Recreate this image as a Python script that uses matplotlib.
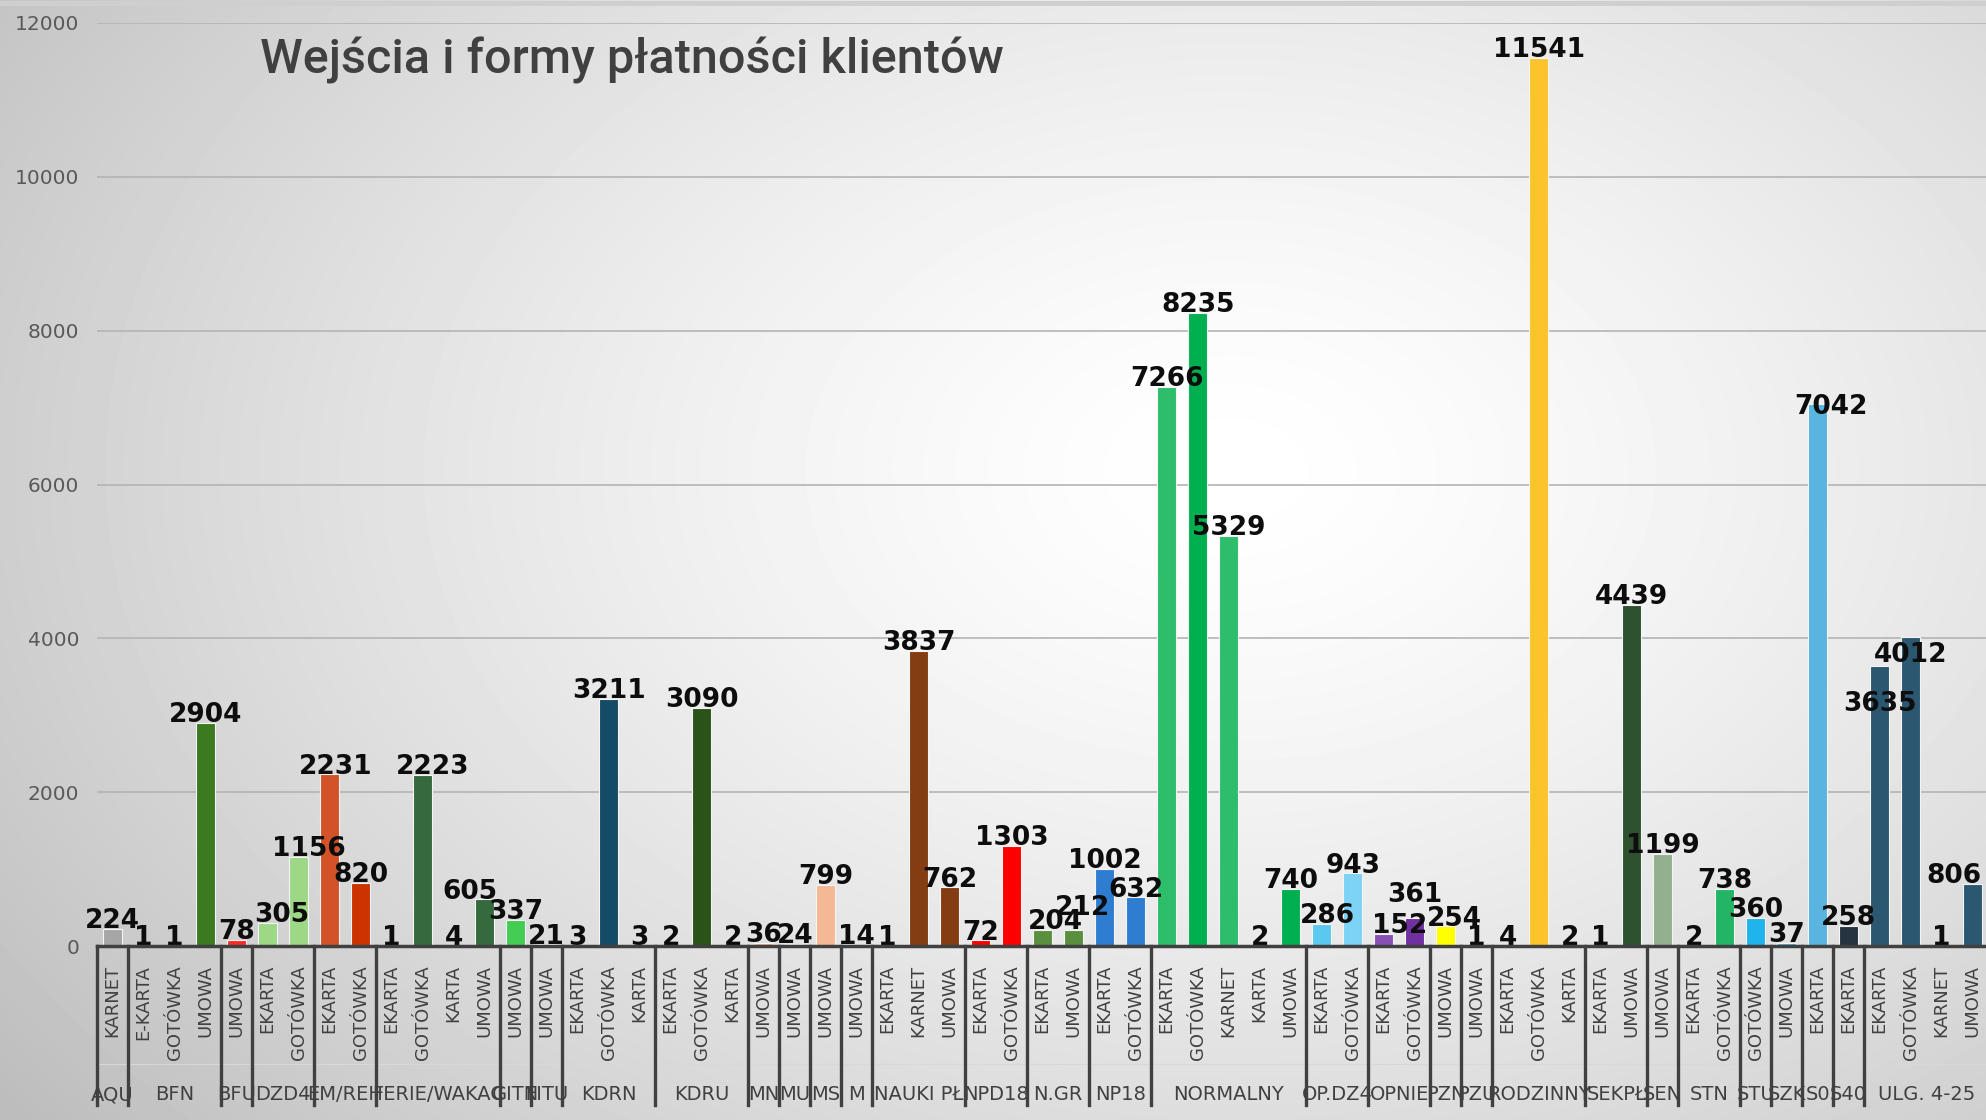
import numpy as np
import matplotlib
matplotlib.use("Agg")
import matplotlib.pyplot as plt
from matplotlib.lines import Line2D

# ---------------- data ----------------
groups = ["AQU", "BFN", "BFU", "DZD4", "EM/REH", "FERIE/WAKAC", "GITN", "FITU",
          "KDRN", "KDRU", "MN", "MU", "MS", "M", "NAUKI PŁ", "NPD18", "N.GR",
          "NP18", "NORMALNY", "OP.DZ4", "OPNIE", "PZN", "PZU", "RODZINNY",
          "SEKPŁ", "SEN", "STN", "STU", "SZK", "S0", "S40", "ULG. 4-25"]

payment_types = [
    ["KARNET"],
    ["E-KARTA", "GOTÓWKA", "UMOWA"],
    ["UMOWA"],
    ["EKARTA", "GOTÓWKA"],
    ["EKARTA", "GOTÓWKA"],
    ["EKARTA", "GOTÓWKA", "KARTA", "UMOWA"],
    ["UMOWA"],
    ["UMOWA"],
    ["EKARTA", "GOTÓWKA", "KARTA"],
    ["EKARTA", "GOTÓWKA", "KARTA"],
    ["UMOWA"],
    ["UMOWA"],
    ["UMOWA"],
    ["UMOWA"],
    ["EKARTA", "KARNET", "UMOWA"],
    ["EKARTA", "GOTÓWKA"],
    ["EKARTA", "UMOWA"],
    ["EKARTA", "GOTÓWKA"],
    ["EKARTA", "GOTÓWKA", "KARNET", "KARTA", "UMOWA"],
    ["EKARTA", "GOTÓWKA"],
    ["EKARTA", "GOTÓWKA"],
    ["UMOWA"],
    ["UMOWA"],
    ["EKARTA", "GOTÓWKA", "KARTA"],
    ["EKARTA", "UMOWA"],
    ["UMOWA"],
    ["EKARTA", "GOTÓWKA"],
    ["GOTÓWKA"],
    ["UMOWA"],
    ["EKARTA"],
    ["EKARTA"],
    ["EKARTA", "GOTÓWKA", "KARNET", "UMOWA"],
]

values = [
    [224],
    [1, 1, 2904],
    [78],
    [305, 1156],
    [2231, 820],
    [1, 2223, 4, 605],
    [337],
    [21],
    [3, 3211, 3],
    [2, 3090, 2],
    [36],
    [24],
    [799],
    [14],
    [1, 3837, 762],
    [72, 1303],
    [204, 212],
    [1002, 632],
    [7266, 8235, 5329, 2, 740],
    [286, 943],
    [152, 361],
    [254],
    [1],
    [4, 11541, 2],
    [1, 4439],
    [1199],
    [2, 738],
    [360],
    [37],
    [7042],
    [258],
    [3635, 4012, 1, 806],
]

bar_colors = [
    ["#a6a6a6"],
    ["#5b9bd5", "#c0504d", "#3c7a22"],
    ["#ff2a2a"],
    ["#9cd886", "#9cd886"],
    ["#d35227", "#cc3300"],
    ["#3a7a44", "#346a3c", "#346a3c", "#346a3c"],
    ["#44cc55"],
    ["#3a7a44"],
    ["#144b66", "#144b66", "#144b66"],
    ["#2a5219", "#2a5219", "#e04040"],
    ["#f4b894"],
    ["#f4b894"],
    ["#f4b894"],
    ["#f4b894"],
    ["#843c12", "#843c12", "#843c12"],
    ["#ff0000", "#ff0000"],
    ["#5a8f40", "#5a8f40"],
    ["#2e7dd1", "#2e7dd1"],
    ["#2ebd6b", "#00b050", "#2ebd6b", "#00b050", "#00b050"],
    ["#5bc8f0", "#7dd3f5"],
    ["#8a4fb5", "#7030a0"],
    ["#ffff00"],
    ["#ffc425"],
    ["#ffc425", "#fbc42a", "#ffc425"],
    ["#2e5130", "#2e5130"],
    ["#93b08e"],
    ["#22b566", "#22b566"],
    ["#1fb4ec"],
    ["#5ab4e0"],
    ["#5ab4e0"],
    ["#263340"],
    ["#2b5870", "#2b5870", "#2b5870", "#2b5870"],
]

title = "Wejścia i formy płatności klientów"

# label placement tweaks (pixels: right, up) mimicking the reference's label layout
label_nudge = {
    ("DZD4", "EKARTA"): (14, 0),
    ("DZD4", "GOTÓWKA"): (10, 0),
    ("EM/REH", "EKARTA"): (6, 0),
    ("FERIE/WAKAC", "GOTÓWKA"): (10, 0),
    ("FERIE/WAKAC", "UMOWA"): (-15, 0),
    ("N.GR", "EKARTA"): (13, 0),
    ("N.GR", "UMOWA"): (9, 14),
    ("OP.DZ4", "EKARTA"): (6, 0),
    ("OPNIE", "EKARTA"): (16, 0),
    ("OPNIE", "GOTÓWKA"): (0, 15),
    ("PZN", "UMOWA"): (9, 0),
    ("S0", "EKARTA"): (13, -10),
    ("ULG. 4-25", "EKARTA"): (0, -45),
    ("ULG. 4-25", "GOTÓWKA"): (0, -25),
}

# ---------------- figure ----------------
W, H = 1986, 1120
fig = plt.figure(figsize=(W / 100, H / 100), dpi=100)

# radial gradient background
bg = fig.add_axes([0, 0, 1, 1], zorder=-10)
yy, xx = np.mgrid[0:1:300j, 0:1:500j]
d = np.sqrt(((xx - 0.62) / 0.62) ** 2 + ((yy - 0.42) / 0.75) ** 2)
val = np.clip(1 - 0.19 * d ** 1.4, 0.74, 1.0)
bg.imshow(val, cmap="gray", vmin=0, vmax=1, aspect="auto",
          extent=[0, 1, 0, 1], origin="upper", interpolation="bilinear")
bg.set_xlim(0, 1)
bg.set_ylim(0, 1)
bg.axis("off")

# thin frame band at the very top
fig.add_artist(Line2D([0, 1], [1 - 2.5 / H, 1 - 2.5 / H], color="#cfcfcf",
                      linewidth=3.6, transform=fig.transFigure))

ax_left = 97.2 / W
ax_bottom = (H - 946) / H
ax_top = (H - 23) / H
ax = fig.add_axes([ax_left, ax_bottom, 1891 / W, ax_top - ax_bottom])
ax.patch.set_alpha(0)

flat_vals, flat_cols, flat_types, flat_groups = [], [], [], []
bounds = [0]
for g, v, c, t in zip(groups, values, bar_colors, payment_types):
    flat_vals += v
    flat_cols += c
    flat_types += t
    flat_groups += [g] * len(v)
    bounds.append(bounds[-1] + len(v))

x = np.arange(len(flat_vals))
ax.bar(x, flat_vals, width=0.6, color=flat_cols, edgecolor="#f4f4f4",
       linewidth=0.8, zorder=3)

labels = []
for xi, v, g, t in zip(x, flat_vals, flat_groups, flat_types):
    dx, dy = label_nudge.get((g, t), (0, 0))
    lab = ax.annotate(f"{v}", (xi, v), xytext=(dx * 0.72, 0.6 + dy * 0.72),
                      textcoords="offset points", ha="center", va="baseline",
                      fontsize=19, fontweight="bold", color="#0d0d0d", zorder=5,
                      family="DejaVu Sans", annotation_clip=False)
    labels.append(lab)

ax.set_xlim(-0.5, len(flat_vals) - 0.5)
ax.set_ylim(0, 12000)
ax.set_yticks(np.arange(0, 12001, 2000))
ax.tick_params(axis="y", length=0, pad=13, labelsize=14.5, labelcolor="#595959")
ax.set_xticks([])
ax.yaxis.grid(True, color="#b4b4b4", linewidth=1.2, zorder=0)
ax.set_axisbelow(True)
for s in ["left", "right", "top"]:
    ax.spines[s].set_visible(False)
ax.spines["bottom"].set_color("#404040")
ax.spines["bottom"].set_linewidth(2.5)
ax.spines["bottom"].set_zorder(6)

trans = ax.get_xaxis_transform()
axh_px = (ax_top - ax_bottom) * H

# inner labels
for xi, t in zip(x, flat_types):
    ax.text(xi, -19 / axh_px, t, rotation=90, ha="center", va="top",
            fontsize=13, color="#404040", transform=trans, clip_on=False)

# outer group labels and separator lines
for g, b0, b1 in zip(groups, bounds[:-1], bounds[1:]):
    cx = (b0 + b1 - 1) / 2
    ax.text(cx, -149 / axh_px, g, ha="center", va="center", fontsize=14,
            color="#404040", transform=trans, clip_on=False)
for b in bounds:
    ax.plot([b - 0.5, b - 0.5], [0, -159 / axh_px], color="#404040",
            linewidth=2.4, transform=trans, clip_on=False, zorder=6)

# faint divider between label rows
ax.plot([-0.5, len(flat_vals) - 0.5], [-118 / axh_px, -118 / axh_px],
        color="#d8d8d8", linewidth=0.8, transform=trans, clip_on=False)

fig.text(260 / W, 1 - 60 / H, title, ha="left", va="center", fontsize=35,
         fontweight="medium", family=["Roboto", "DejaVu Sans"], color="#404040")

# keep data labels inside the picture (like the reference's last label)
fig.canvas.draw()
renderer = fig.canvas.get_renderer()
for lab in labels:
    bb = lab.get_window_extent(renderer)
    if bb.x1 > W - 4:
        shift_px = bb.x1 - (W - 4)
        ox, oy = lab.get_position()
        lab.set_position((ox - shift_px * 0.72, oy))

fig.savefig("out.png", dpi=100)
